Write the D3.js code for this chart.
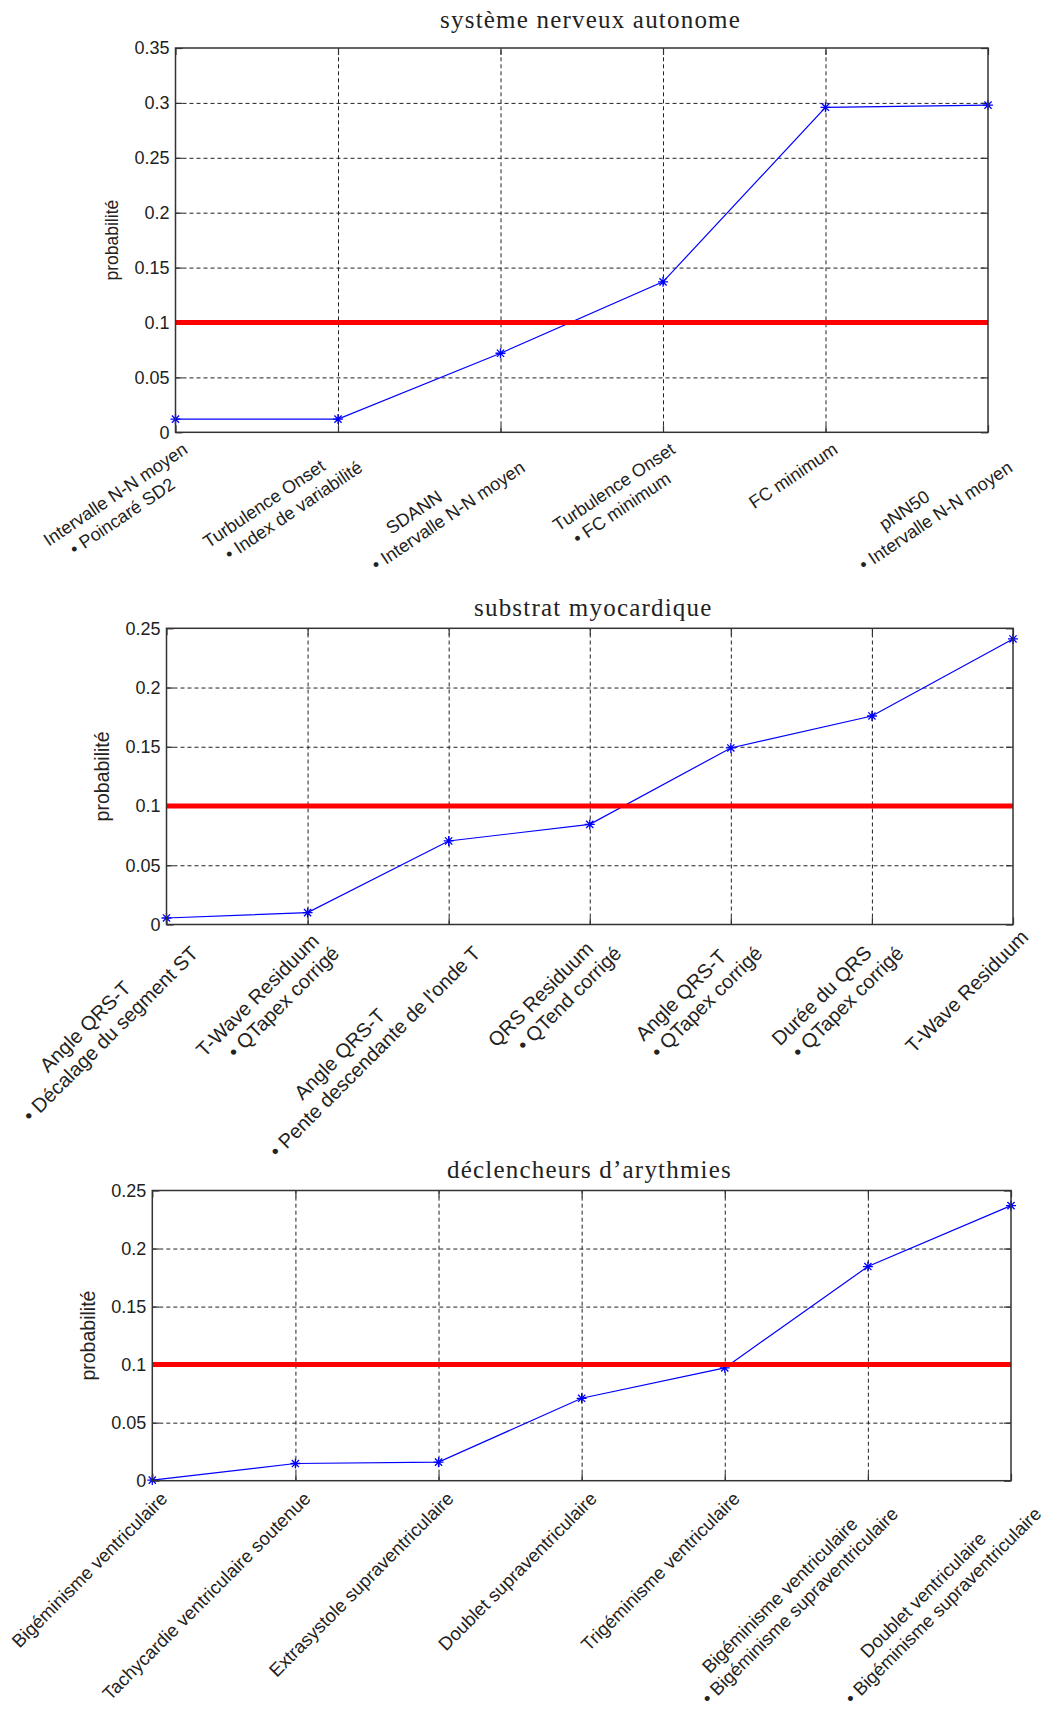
<!DOCTYPE html>
<html>
<head>
<meta charset="utf-8">
<script src="https://cdn.jsdelivr.net/npm/d3@7"></script>
<style>
  body { margin: 0; background: #fff; }
  svg { display: block; }
  .tick text { font-family: "Liberation Sans", Arial, sans-serif; font-size: 18px; fill: #222; }
</style>
</head>
<body>
<svg id="fig" width="1046" height="1709"></svg>
<script>
// ---------- data: système nerveux autonome ----------
const titleANS = "système nerveux autonome";
const labelsANS = [
  ["Intervalle N-N moyen", "• Poincaré SD2"],
  ["Turbulence Onset", "• Index de variabilité"],
  ["SDANN", "• Intervalle N-N moyen"],
  ["Turbulence Onset", "• FC minimum"],
  ["FC minimum"],
  ["pNN50", "• Intervalle N-N moyen"]
];
const valuesANS = [0.012, 0.012, 0.072, 0.137, 0.296, 0.298];
const yTicksANS = [0, 0.05, 0.1, 0.15, 0.2, 0.25, 0.3, 0.35];

// ---------- data: substrat myocardique ----------
const titleMYO = "substrat myocardique";
const labelsMYO = [
  ["Angle QRS-T", "• Décalage du segment ST"],
  ["T-Wave Residuum", "• QTapex corrigé"],
  ["Angle QRS-T", "• Pente descendante de l'onde T"],
  ["QRS Residuum", "• QTend corrigé"],
  ["Angle QRS-T", "• QTapex corrigé"],
  ["Durée du QRS", "• QTapex corrigé"],
  ["T-Wave Residuum"]
];
const valuesMYO = [0.0055, 0.010, 0.0705, 0.0845, 0.149, 0.176, 0.241];
const yTicksMYO = [0, 0.05, 0.1, 0.15, 0.2, 0.25];

// ---------- data: déclencheurs d'arythmies ----------
const titleARR = "déclencheurs d’arythmies";
const labelsARR = [
  ["Bigéminisme ventriculaire"],
  ["Tachycardie ventriculaire soutenue"],
  ["Extrasystole supraventriculaire"],
  ["Doublet supraventriculaire"],
  ["Trigéminisme ventriculaire"],
  ["Bigéminisme ventriculaire", "• Bigéminisme supraventriculaire"],
  ["Doublet ventriculaire", "• Bigéminisme supraventriculaire"]
];
const valuesARR = [0.0005, 0.0148, 0.016, 0.071, 0.0972, 0.1845, 0.237];
const yTicksARR = [0, 0.05, 0.1, 0.15, 0.2, 0.25];

// significance threshold drawn in red on every panel
const threshold = 0.1;
const yLabel = "probabilité";

// ---------- layout ----------
const panels = [
  { title: titleANS, labels: labelsANS, values: valuesANS, yTicks: yTicksANS,
    left: 175.5, right: 988, top: 48, bottom: 432.3, titleX: 590.6, titleY: 28,
    angle: 34, labFont: 18, labLine: 22, labAlong: 0, labPerp: 24, yLabFont: 17.5 },
  { title: titleMYO, labels: labelsMYO, values: valuesMYO, yTicks: yTicksMYO,
    left: 166.5, right: 1013, top: 628.3, bottom: 924.5, titleX: 593.3, titleY: 616,
    angle: 45, labFont: 20, labLine: 23, labAlong: 2, labPerp: 21.5, yLabFont: 19.5 },
  { title: titleARR, labels: labelsARR, values: valuesARR, yTicks: yTicksARR,
    left: 152.3, right: 1011, top: 1190.5, bottom: 1480.7, titleX: 589.5, titleY: 1178,
    angle: 45, labFont: 18.5, labLine: 21.5, labAlong: -2, labPerp: 25, yLabFont: 19.5 }
];

const svg = d3.select("#fig");
const fmt = v => v === 0 ? "0" : String(+v.toFixed(2));
const TICK = 7;

function drawPanel(p) {
  const g = svg.append("g");
  const idx = d3.range(p.values.length);
  const x = d3.scalePoint().domain(idx).range([p.left, p.right]);
  const y = d3.scaleLinear().domain([0, d3.max(p.yTicks)]).range([p.bottom, p.top]);
  const w = p.right - p.left, h = p.bottom - p.top;

  // dotted grid at interior ticks
  const gy = g.append("g").attr("transform", `translate(${p.left},0)`)
    .call(d3.axisLeft(y).tickValues(p.yTicks.slice(1, -1)).tickSize(-w).tickFormat(""));
  const gx = g.append("g").attr("transform", `translate(0,${p.bottom})`)
    .call(d3.axisBottom(x).tickValues(idx.slice(1, -1)).tickSize(-h).tickFormat(""));
  [gy, gx].forEach(s => {
    s.select(".domain").remove();
    s.selectAll("line").attr("stroke", "#222").attr("stroke-width", 1)
      .attr("stroke-dasharray", "4,3");
  });

  // inward tick marks on all four sides, labels on the left
  const yl = g.append("g").attr("transform", `translate(${p.left},0)`)
    .call(d3.axisLeft(y).tickValues(p.yTicks).tickSize(-TICK).tickPadding(6).tickFormat(fmt));
  const yr = g.append("g").attr("transform", `translate(${p.right},0)`)
    .call(d3.axisRight(y).tickValues(p.yTicks).tickSize(-TICK).tickFormat(""));
  const xb = g.append("g").attr("transform", `translate(0,${p.bottom})`)
    .call(d3.axisBottom(x).tickSize(-TICK).tickFormat(""));
  const xt = g.append("g").attr("transform", `translate(0,${p.top})`)
    .call(d3.axisTop(x).tickSize(-TICK).tickFormat(""));
  [yl, yr, xb, xt].forEach(s => {
    s.select(".domain").remove();
    s.selectAll("line").attr("stroke", "#333").attr("stroke-width", 1.2);
  });
  yl.selectAll("text").attr("font-family", null).attr("font-size", null);

  // data line and asterisk markers
  const line = d3.line().x((d, i) => x(i)).y(d => y(d));
  g.append("path").datum(p.values)
    .attr("d", line).attr("fill", "none").attr("stroke", "#0000ff").attr("stroke-width", 1.2);
  const r = 5, rd = 3.6;
  const star = `M${-r},0H${r}M0,${-r}V${r}M${-rd},${-rd}L${rd},${rd}M${-rd},${rd}L${rd},${-rd}`;
  g.append("g").selectAll("path").data(p.values).join("path")
    .attr("transform", (d, i) => `translate(${x(i)},${y(d)})`)
    .attr("d", star).attr("stroke", "#0000ff").attr("stroke-width", 1.3).attr("fill", "none");

  // threshold
  g.append("line")
    .attr("x1", p.left).attr("x2", p.right)
    .attr("y1", y(threshold)).attr("y2", y(threshold))
    .attr("stroke", "#ff0000").attr("stroke-width", 5);

  // axes box
  g.append("rect").attr("x", p.left).attr("y", p.top).attr("width", w).attr("height", h)
    .attr("fill", "none").attr("stroke", "#333").attr("stroke-width", 1.5);

  // rotated multi-line category labels (lines padded to equal length, right aligned)
  const lab = g.append("g")
    .attr("font-family", "'Liberation Sans', Arial, sans-serif")
    .attr("font-size", p.labFont).attr("fill", "#222");
  p.labels.forEach((lines, i) => {
    const n = d3.max(lines, s => s.length);
    const t = lab.append("g")
      .attr("transform", `translate(${x(i)},${p.bottom}) rotate(${-p.angle})`);
    lines.forEach((s, j) => {
      t.append("text")
        .attr("x", p.labAlong).attr("y", p.labPerp + j * p.labLine)
        .attr("text-anchor", "end")
        .text(s + "\u00A0".repeat(n - s.length));
    });
  });

  // y-axis title
  const cy = (p.top + p.bottom) / 2;
  g.append("text")
    .attr("transform", `translate(${p.left - 64},${cy}) rotate(-90)`)
    .attr("text-anchor", "middle").attr("dy", "0.35em")
    .attr("font-family", "'Liberation Sans', Arial, sans-serif")
    .attr("font-size", p.yLabFont).attr("fill", "#222")
    .text(yLabel);

  // panel title
  g.append("text")
    .attr("x", p.titleX).attr("y", p.titleY)
    .attr("text-anchor", "middle")
    .attr("font-family", "'Liberation Serif', 'Times New Roman', serif")
    .attr("font-size", 25).attr("letter-spacing", 1.2).attr("fill", "#222")
    .text(p.title);
}

panels.forEach(drawPanel);
</script>
</body>
</html>
